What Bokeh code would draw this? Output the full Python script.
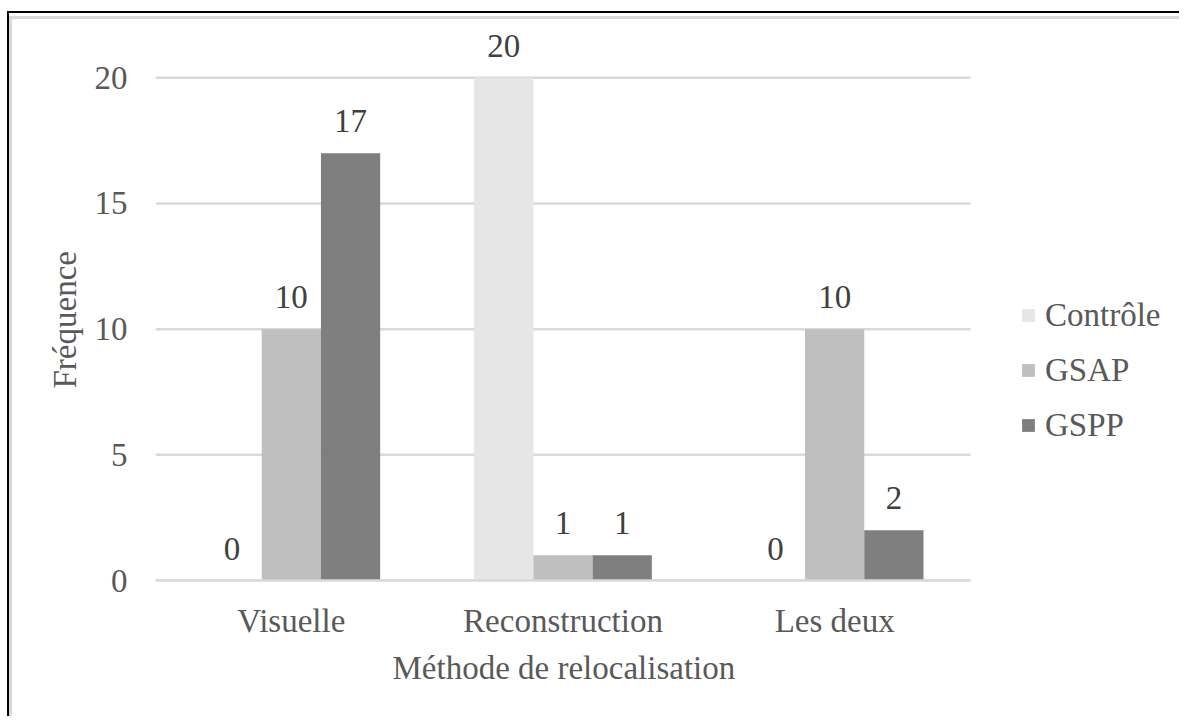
from bokeh.plotting import figure
from bokeh.models import (ColumnDataSource, Range1d, LabelSet,
                          Legend, LegendItem, FixedTicker, Title)
from bokeh.layouts import column
from bokeh.embed import file_html
from bokeh.resources import INLINE

categories = ["Visuelle", "Reconstruction", "Les deux"]
controle = [0, 20, 0]
gsap = [10, 1, 10]
gspp = [17, 1, 2]
series_names = ["Contrôle", "GSAP", "GSPP"]
colors = ["#E7E6E6", "#BFBFBF", "#7F7F7F"]
y_ticks = [0, 5, 10, 15, 20]

FONT = "Liberation Serif"
FS = "33px"
AXIS_COLOR = "#595959"
LABEL_COLOR = "#404040"
GRID_COLOR = "#D9D9D9"

n = len(categories)
xs = list(range(n))
bw = 0.218
offsets = [-bw, 0.0, bw]
series = [controle, gsap, gspp]

# frame spans the category area plus room on the right for the legend
x_lo = -0.5
x_hi = n - 0.5
x_end = x_lo + (1178 - 155) / ((970 - 155) / n)

p = figure(x_range=Range1d(x_lo, x_end), y_range=Range1d(0, 22),
           width=1170, height=700, output_backend="svg", toolbar_location=None,
           min_border_left=143, min_border_right=4, min_border_top=8,
           min_border_bottom=139)
p.outline_line_color = None
p.background_fill_color = "white"
p.border_fill_color = "white"

# horizontal gridlines limited to the category area
p.xgrid.visible = False
p.ygrid.visible = False
p.segment(x0=[x_lo] * len(y_ticks), x1=[x_hi] * len(y_ticks), y0=y_ticks, y1=y_ticks,
          line_color=GRID_COLOR, line_width=2.5, level="underlay")

renderers = []
for i, (name, col, vals) in enumerate(zip(series_names, colors, series)):
    src = ColumnDataSource(dict(
        x=[j + offsets[i] for j in xs],
        top=vals,
        txt=[str(v) for v in vals],
    ))
    r = p.vbar(x="x", top="top", width=bw, source=src,
               fill_color=col, line_color=None)
    renderers.append(r)
    lab = LabelSet(x="x", y="top", text="txt", source=src, text_align="center",
                   text_baseline="middle", y_offset=32,
                   text_font=FONT, text_font_size=FS, text_color=LABEL_COLOR)
    p.add_layout(lab)

# y axis
p.yaxis.ticker = FixedTicker(ticks=y_ticks)
p.yaxis.axis_line_color = None
p.yaxis.major_tick_line_color = None
p.yaxis.minor_tick_line_color = None
p.yaxis.major_tick_out = 0
p.yaxis.major_label_standoff = 28
p.yaxis.major_label_text_font = FONT
p.yaxis.major_label_text_font_size = FS
p.yaxis.major_label_text_color = AXIS_COLOR

ytitle = Title(text="Fréquence", align="left", offset=192, standoff=18,
               text_font=FONT, text_font_size=FS, text_font_style="normal",
               text_color=AXIS_COLOR)
p.add_layout(ytitle, "left")

# x axis
p.xaxis.ticker = FixedTicker(ticks=xs)
p.xaxis.major_label_overrides = {j: c for j, c in zip(xs, categories)}
p.xaxis.bounds = (x_lo, x_hi)
p.xaxis.axis_line_color = GRID_COLOR
p.xaxis.axis_line_width = 2.5
p.xaxis.major_tick_line_color = None
p.xaxis.minor_tick_line_color = None
p.xaxis.major_tick_out = 0
p.xaxis.major_label_standoff = 22
p.xaxis.major_label_text_font = FONT
p.xaxis.major_label_text_font_size = FS
p.xaxis.major_label_text_color = AXIS_COLOR

xtitle = Title(text="Méthode de relocalisation", align="left", offset=237,
               vertical_align="top", standoff=16,
               text_font=FONT, text_font_size=FS, text_font_style="normal",
               text_color=AXIS_COLOR)
p.add_layout(xtitle, "below")

legend = Legend(
    items=[LegendItem(label=nm, renderers=[r]) for nm, r in zip(series_names, renderers)],
    location=(865, 135), orientation="vertical",
    glyph_width=16, glyph_height=16, label_standoff=9,
    label_height=40, spacing=15, padding=0, margin=0,
    border_line_color=None, background_fill_alpha=0,
    label_text_font=FONT, label_text_font_size=FS, label_text_color=AXIS_COLOR,
)
p.add_layout(legend)

p.styles = {"border-top": "3px solid #D9D9D9", "border-left": "3px solid #D9D9D9"}
layout = column(p, styles={"border-top": "2px solid black", "border-left": "2px solid black",
                           "margin-top": "11px", "margin-left": "7px",
                           "padding-top": "3px"})

open("out.html", "w").write(file_html(layout, INLINE))
